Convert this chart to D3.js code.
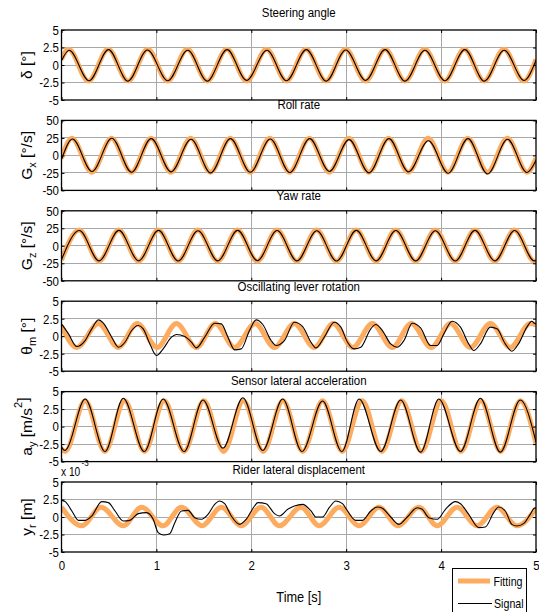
<!doctype html>
<html>
<head>
    <meta charset="UTF-8">
    <title>Fitting vs signal</title>
    <script src="https://d3js.org/d3.v7.min.js"></script>
    <style>
        body { margin: 0; background: #fff; }
        text { font-family: "Liberation Sans", Arial, sans-serif; fill: #000; }
    </style>
</head>
<body>
    <svg width="539" height="612" id="svg1"></svg>
<script>
// time axis [s]
var timeTicks = [0, 1, 2, 3, 4, 5];

var titles = ["Steering angle", "Roll rate", "Yaw rate",
              "Oscillating lever rotation", "Sensor lateral acceleration", "Rider lateral displacement"];

var yTicks = [
    [5, 2.5, 0, -2.5, -5],
    [50, 25, 0, -25, -50],
    [50, 25, 0, -25, -50],
    [5, 2.5, 0, -2.5, -5],
    [5, 2.5, 0, -2.5, -5],
    [5, 2.5, 0, -2.5, -5]      // x 10^-3
];

// [time, value]
var steerFit = [[0,0.8],[0.075,2.25],[0.284,-2.3],[0.492,2.25],[0.701,-2.3],[0.909,2.25],[1.118,-2.3],[1.326,2.25],[1.535,-2.3],[1.743,2.25],[1.952,-2.3],[2.160,2.25],[2.369,-2.3],[2.577,2.25],[2.786,-2.3],[2.994,2.25],[3.203,-2.3],[3.411,2.25],[3.620,-2.3],[3.828,2.25],[4.037,-2.3],[4.245,2.25],[4.454,-2.3],[4.662,2.25],[4.871,-2.3],[5.0,0.8]];
var steerSig = [[0,0.6],[0.080,2.1],[0.290,-2.25],[0.495,2.2],[0.700,-2.3],[0.905,2.15],[1.120,-2.25],[1.330,2.1],[1.535,-2.3],[1.745,2.2],[1.950,-2.2],[2.165,2.1],[2.370,-2.25],[2.580,2.2],[2.790,-2.3],[2.995,2.15],[3.205,-2.2],[3.410,2.2],[3.620,-2.3],[3.830,2.1],[4.040,-2.25],[4.250,2.2],[4.455,-2.3],[4.665,2.1],[4.875,-2.2],[5.0,0.7]];

var rollFit = [[0,-4],[0.110,24.5],[0.319,-24],[0.527,24.5],[0.736,-24],[0.944,24.5],[1.153,-24],[1.361,24.5],[1.570,-24],[1.778,24.5],[1.987,-24],[2.195,24.5],[2.404,-24],[2.612,24.5],[2.821,-24],[3.029,24.5],[3.238,-24],[3.446,24.5],[3.655,-24],[3.863,24.5],[4.072,-24],[4.280,24.5],[4.489,-24],[4.697,24.5],[4.906,-24],[5.0,-4]];
var rollSig = [[0,-6],[0.115,23.5],[0.322,-23],[0.530,24.5],[0.738,-24],[0.945,24],[1.155,-23.5],[1.365,23],[1.572,-25],[1.780,24],[1.990,-24],[2.200,23.5],[2.406,-24.5],[2.615,24],[2.823,-23],[3.030,22.5],[3.240,-25],[3.450,24],[3.657,-23.5],[3.866,21],[4.075,-25.5],[4.283,24],[4.490,-26.5],[4.700,23],[4.905,-24.5],[5.0,-7]];

var yawFit = [[0,-20.5],[0.186,22.5],[0.395,-22],[0.603,22.5],[0.812,-22],[1.020,22.5],[1.229,-22],[1.437,22.5],[1.646,-22],[1.854,22.5],[2.063,-22],[2.271,22.5],[2.480,-22],[2.688,22.5],[2.897,-22],[3.105,22.5],[3.314,-22],[3.522,22.5],[3.731,-22],[3.939,22.5],[4.148,-22],[4.356,22.5],[4.565,-22],[4.773,22.5],[4.982,-22],[5.0,-21.5]];
var yawSig = [[0,-20],[0.188,21.8],[0.396,-21.5],[0.605,22],[0.813,-21.5],[1.022,22],[1.230,-21.8],[1.438,21.5],[1.647,-21.5],[1.856,22],[2.064,-21.3],[2.272,21.8],[2.481,-21.5],[2.690,21.5],[2.898,-21.8],[3.107,22],[3.315,-21.5],[3.523,21.8],[3.732,-21.5],[3.940,21.5],[4.149,-21.8],[4.357,22],[4.566,-21.5],[4.775,21.8],[4.983,-21.5],[5.0,-21]];

var leverFit = [[0,1.5],[0.161,-1.6],[0.389,1.8],[0.599,-1.6],[0.798,1.8],[1.008,-1.6],[1.211,1.8],[1.421,-1.6],[1.621,1.8],[1.824,-1.6],[2.041,1.8],[2.244,-1.6],[2.454,1.8],[2.664,-1.6],[2.863,1.8],[3.070,-1.6],[3.276,1.8],[3.486,-1.6],[3.686,1.8],[3.896,-1.6],[4.099,1.8],[4.309,-1.6],[4.519,1.8],[4.729,-1.6],[4.939,1.8],[5.0,1.6]];
var leverSig = [[0,1.76],[0.074,0.33],[0.161,-1.48],[0.249,-0.62],[0.319,1.05],[0.389,2.33],[0.441,1.86],[0.529,-0.14],[0.599,-1.57],[0.669,-0.86],[0.739,0.81],[0.809,1.52],[0.861,1.05],[0.931,-1.10],[1.001,-2.76],[1.071,-1.81],[1.159,-0.14],[1.211,0.24],[1.299,-0.05],[1.369,-0.86],[1.421,-1.67],[1.509,-0.14],[1.614,1.86],[1.684,1.76],[1.754,-0.14],[1.824,-1.95],[1.894,-1.81],[1.981,0.81],[2.051,2.33],[2.121,1.67],[2.209,-0.62],[2.261,-1.33],[2.349,-0.62],[2.454,2.00],[2.541,1.38],[2.629,-0.86],[2.681,-1.67],[2.769,-0.14],[2.874,2.00],[2.944,1.29],[3.014,-0.86],[3.084,-1.81],[3.154,-1.57],[3.259,1.05],[3.311,1.67],[3.381,0.81],[3.469,-1.10],[3.539,-1.57],[3.609,-0.62],[3.696,1.86],[3.784,1.19],[3.889,-1.33],[3.959,-1.33],[4.029,0.33],[4.116,2.14],[4.204,1.29],[4.291,-1.10],[4.344,-2.05],[4.414,-1.10],[4.519,1.29],[4.589,1.05],[4.676,-1.10],[4.746,-2.14],[4.816,-1.10],[4.904,1.29],[4.956,2.14],[4.981,1.86],[5.0,1.8]];

var accFit = [[0,-3.2],[0.040,-3.55],[0.249,3.7],[0.457,-3.55],[0.666,3.7],[0.874,-3.55],[1.083,3.7],[1.291,-3.55],[1.500,3.7],[1.708,-3.55],[1.917,3.7],[2.125,-3.55],[2.334,3.7],[2.542,-3.55],[2.751,3.7],[2.959,-3.55],[3.168,3.7],[3.376,-3.55],[3.585,3.7],[3.793,-3.55],[4.002,3.7],[4.210,-3.55],[4.419,3.7],[4.627,-3.55],[4.836,3.7],[5.0,-2.4]];
var accSig = [[0,-2.8],[0.020,-3.3],[0.039,-3.4],[0.060,-3.1],[0.249,3.94],[0.459,-3.56],[0.651,4.04],[0.872,-3.56],[1.071,3.94],[1.292,-3.56],[1.491,3.8],[1.701,-3.08],[1.911,4.13],[2.121,-3.41],[2.331,3.94],[2.534,-3.56],[2.751,3.65],[2.954,-3.56],[3.136,3.94],[3.364,-3.56],[3.574,3.8],[3.784,-3.65],[3.976,3.94],[4.204,-3.56],[4.414,4.04],[4.624,-3.65],[4.834,3.8],[5.0,-2.2]];

var dispFit = [[0,1.4],[0.214,-1.25],[0.417,1.4],[0.651,-1.25],[0.844,1.4],[1.071,-1.25],[1.264,1.4],[1.481,-1.25],[1.684,1.4],[1.894,-1.25],[2.104,1.4],[2.296,-1.25],[2.524,1.4],[2.716,-1.25],[2.926,1.4],[3.136,-1.25],[3.346,1.4],[3.546,-1.25],[3.766,1.4],[3.959,-1.25],[4.169,1.4],[4.379,-1.25],[4.589,1.4],[4.799,-1.25],[5.0,1.2]];
var dispSig = [[0,2.38],[0.039,2.19],[0.109,0.86],[0.179,-0.48],[0.249,-0.48],[0.319,0.14],[0.424,2.19],[0.494,2.05],[0.564,0.86],[0.651,-0.57],[0.721,-0.48],[0.809,0.48],[0.896,0.62],[0.966,-0.33],[1.019,-2.24],[1.071,-2.57],[1.141,-2.38],[1.194,-0.81],[1.264,0.86],[1.334,0.95],[1.404,-0.10],[1.474,-0.33],[1.544,0.38],[1.614,1.81],[1.666,2.29],[1.719,1.90],[1.789,0.14],[1.876,-1.05],[1.946,-0.33],[2.034,1.57],[2.069,2.05],[2.156,1.90],[2.244,0.48],[2.296,0.14],[2.384,1.10],[2.454,1.57],[2.541,1.81],[2.629,0.86],[2.681,0],[2.751,0],[2.821,1.33],[2.891,2.29],[2.961,1.90],[3.014,0.86],[3.101,-0.48],[3.171,-0.48],[3.259,0.86],[3.329,1.43],[3.381,1.24],[3.469,0],[3.556,-1.05],[3.644,0],[3.749,1.33],[3.801,1.10],[3.871,-0.10],[3.959,-0.33],[4.046,1.10],[4.151,2.19],[4.204,1.90],[4.291,0.38],[4.396,-1.52],[4.466,-1.43],[4.554,0.62],[4.606,1.43],[4.676,0.86],[4.746,-1.05],[4.799,-1.29],[4.869,-0.95],[4.939,0.38],[4.981,1.24],[5.0,1.3]];

var fits = [steerFit, rollFit, yawFit, leverFit, accFit, dispFit];
var signals = [steerSig, rollSig, yawSig, leverSig, accSig, dispSig];

// y label pieces: [text, kind]
var yLabels = [
    [["δ [°]"]],
    [["G"], ["x", "sub"], [" [°/s]"]],
    [["G"], ["z", "sub"], [" [°/s]"]],
    [["θ"], ["m", "sub"], [" [°]"]],
    [["a"], ["y", "sub"], [" [m/s"], ["2", "sup"], ["]"]],
    [["y"], ["r", "sub"], [" [m]"]]
];

var fitColor = "#fdab5e";
var squeeze = "scale(0.85,1)";

var svg = d3.select("#svg1");
var x = d3.scaleLinear().domain([0, 5]).range([61.5, 536]);
var panelTop = 30, panelStep = 90.4, panelH = 70;
var titleGap = [13, 11, 11, 10, 7, 8];

function addText(g, px, py, str, size, anchor, scale) {
    return g.append("text")
        .attr("transform", "translate(" + px + "," + py + ") " + (scale || squeeze))
        .attr("font-size", size)
        .attr("text-anchor", anchor || "start")
        .text(str);
}

function drawPanel(i) {
    var top = panelTop + panelStep * i;
    var lim = yTicks[i][0];
    var y = d3.scaleLinear().domain([-lim, lim]).range([panelH, 0]);
    var g = svg.append("g").attr("transform", "translate(0," + top + ")");

    g.append("clipPath").attr("id", "clip" + i)
        .append("rect").attr("x", x(0)).attr("y", 0)
        .attr("width", x(5) - x(0)).attr("height", panelH);

    // grid
    var grid = g.append("g").attr("stroke", "#a8a8a8").attr("stroke-width", 1)
        .attr("shape-rendering", "crispEdges");
    grid.selectAll("line.h").data(yTicks[i].filter(function(d){ return Math.abs(d) < lim; }))
        .enter().append("line").attr("class", "h")
        .attr("x1", x(0)).attr("x2", x(5))
        .attr("y1", function(d){ return y(d); }).attr("y2", function(d){ return y(d); });
    grid.selectAll("line.v").data(timeTicks.slice(1, -1))
        .enter().append("line").attr("class", "v")
        .attr("y1", 0).attr("y2", panelH)
        .attr("x1", function(d){ return x(d); }).attr("x2", function(d){ return x(d); });

    var line = d3.line()
        .x(function(d){ return x(d[0]); })
        .y(function(d){ return y(d[1]); })
        .curve(d3.curveMonotoneX);

    var plot = g.append("g").attr("clip-path", "url(#clip" + i + ")");
    plot.append("path").attr("d", line(fits[i]))
        .attr("fill", "none").attr("stroke", fitColor).attr("stroke-width", 5);
    plot.append("path").attr("d", line(signals[i]))
        .attr("fill", "none").attr("stroke", "#000").attr("stroke-width", 1.1);

    // axes, ticks inside
    var fmt = function(d){ return String(d); };
    var left = g.append("g").attr("transform", "translate(" + x(0) + ",0)")
        .call(d3.axisLeft(y).tickValues(yTicks[i]).tickSize(-3).tickPadding(3).tickFormat(fmt));
    var right = g.append("g").attr("transform", "translate(" + x(5) + ",0)")
        .call(d3.axisRight(y).tickValues(yTicks[i]).tickSize(-3).tickFormat(""));
    var topAx = g.append("g")
        .call(d3.axisTop(x).tickValues(timeTicks).tickSize(-3).tickFormat(""));
    var bottom = g.append("g").attr("transform", "translate(0," + panelH + ")")
        .call(d3.axisBottom(x).tickValues(timeTicks).tickSize(-3).tickPadding(8)
              .tickFormat(i === 5 ? fmt : ""));
    [left, right, topAx, bottom].forEach(function(a) {
        a.select(".domain").remove();
        a.attr("font-size", 13.5).attr("font-family", null);
        a.selectAll("text").attr("transform", squeeze).attr("fill", "#000");
        a.selectAll("line").attr("stroke", "#000");
    });

    g.append("rect").attr("x", x(0)).attr("y", 0)
        .attr("width", x(5) - x(0)).attr("height", panelH)
        .attr("fill", "none").attr("stroke", "#000").attr("stroke-width", 1.3);

    addText(g, (x(0) + x(5)) / 2, -titleGap[i], titles[i], 13.5, "middle");

    // rotated y label
    var lab = g.append("text")
        .attr("transform", "translate(32," + (panelH / 2) + ") rotate(-90)")
        .attr("font-size", 15.5).attr("text-anchor", "middle");
    yLabels[i].forEach(function(p, k) {
        var t = lab.append("tspan").text(p[0]);
        if (p[1] === "sub") t.attr("font-size", 11).attr("dy", 4);
        else if (p[1] === "sup") t.attr("font-size", 11).attr("dy", -10);
        else if (k > 0) {
            var prev = yLabels[i][k - 1][1];
            if (prev === "sub") t.attr("dy", -4);
            if (prev === "sup") t.attr("dy", 6);
        }
    });
    return g;
}

for (var i = 0; i < titles.length; i++) {
    drawPanel(i);
}

// exponent of the last panel
var expo = svg.append("g");
addText(expo, 61, 476, "x 10", 12, "start");
addText(expo, 81.5, 466, "-3", 9.5, "start");

addText(svg, (x(0) + x(5)) / 2, 602, "Time [s]", 14.5, "middle", "scale(0.88,1)");

// legend
var leg = svg.append("g");
leg.append("rect").attr("x", 452.5).attr("y", 568.5).attr("width", 74).attr("height", 60)
    .attr("fill", "#fff").attr("stroke", "#000").attr("stroke-width", 1);
leg.append("line").attr("x1", 458).attr("x2", 490).attr("y1", 581).attr("y2", 581)
    .attr("stroke", fitColor).attr("stroke-width", 5);
leg.append("line").attr("x1", 458).attr("x2", 492).attr("y1", 603.5).attr("y2", 603.5)
    .attr("stroke", "#000").attr("stroke-width", 1);
addText(leg, 493.5, 585.5, "Fitting", 13, "start", "scale(0.82,1)");
addText(leg, 494, 607.5, "Signal", 13, "start", "scale(0.82,1)");
</script>
</body>
</html>
